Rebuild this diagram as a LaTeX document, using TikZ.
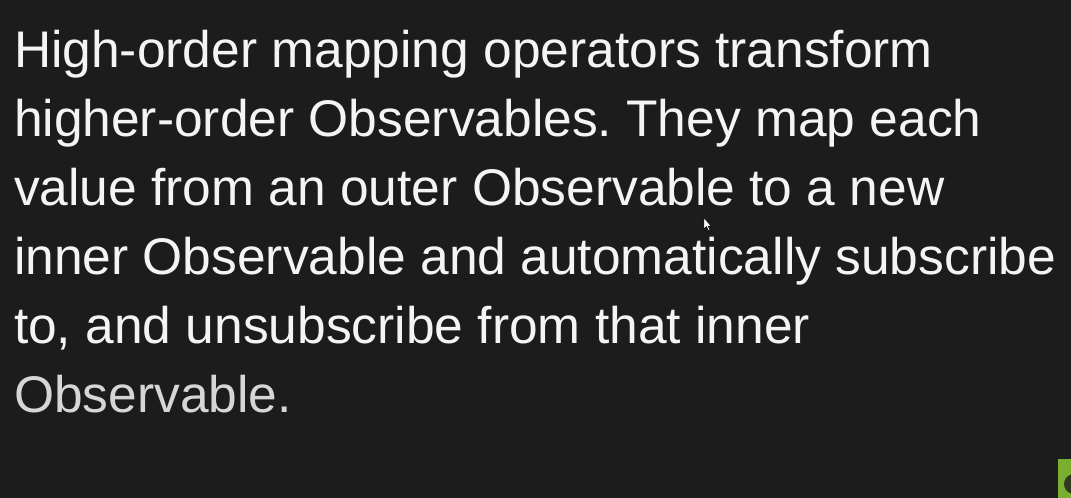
\documentclass[tikz,border=0pt]{standalone}
\usepackage{fontspec}
\setmainfont{Liberation Sans}
\frenchspacing
\definecolor{bg}{HTML}{1C1C1C}
\definecolor{txt}{HTML}{F4F4F4}
\definecolor{txtgray}{HTML}{D6D6D6}
\definecolor{leaf}{HTML}{7AAE2E}
\begin{document}
\begin{tikzpicture}[x=1bp,y=1bp,
  line/.style={anchor=base west,inner sep=0pt,outer sep=0pt,text=txt,font=\fontsize{51.7}{60}\selectfont}]
\fill[bg] (0,0) rectangle (1071,498);
\useasboundingbox (0,0) rectangle (1071,498);
\node[line] (l1) at (14,498-68) {High-order mapping operators transform};
\node[line] (l2) at (14,498-137) {higher-order Observables. They map each};
\node[line] (l3) at (14,498-206) {value from an outer Observable to a new};
\node[line] (l4) at (14,498-275) {inner Observable and automatically subscribe};
\node[line] (l5) at (14,498-344) {to, and unsubscribe from that inner};
\node[line,text=txtgray] (l6) at (14,498-413) {Observable.};
% mouse pointer
\fill[white,draw=black,line width=0.4bp] (704,498-218) -- (704,498-229) -- (706.5,498-226.5) -- (708.5,498-230.5) -- (710,498-229.8) -- (708,498-226) -- (711,498-226) -- cycle;
% green corner blob
\begin{scope}
\clip (1058,0) rectangle (1071,498-459);
\fill[leaf] (1058,0) rectangle (1071,498-459);
\fill[bg!80!leaf] (1074,498-484) circle (10);
\end{scope}
\end{tikzpicture}
\end{document}
